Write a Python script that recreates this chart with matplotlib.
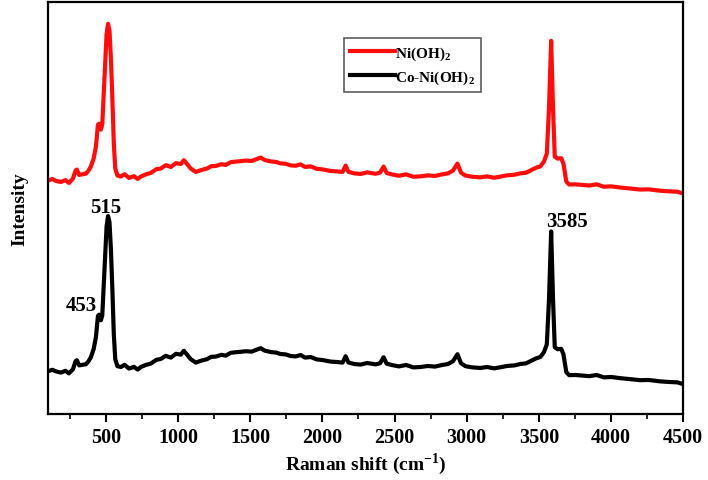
import matplotlib
matplotlib.use("Agg")
import matplotlib.pyplot as plt
from matplotlib.ticker import MultipleLocator

plt.rcParams['font.family'] = 'Liberation Serif'
plt.rcParams['font.weight'] = 'bold'
plt.rcParams['mathtext.fontset'] = 'custom'
plt.rcParams['mathtext.rm'] = 'Liberation Serif:bold'
plt.rcParams['mathtext.bf'] = 'Liberation Serif:bold'

# Raman shift (cm-1)
shift = [100, 130, 154, 189, 220, 244, 272, 290, 299, 315, 340, 362, 380, 396, 415, 431,
         445, 453, 465, 475, 490, 505, 515, 525, 535, 545, 555, 565, 580, 604, 630, 660,
         694, 720, 742, 780, 811, 850, 880, 915, 950, 985, 1019, 1040, 1060, 1088, 1123,
         1157, 1200, 1230, 1261, 1300, 1330, 1365, 1400, 1434, 1470, 1510, 1538, 1573,
         1600, 1642, 1680, 1710, 1746, 1780, 1815, 1849, 1880, 1919, 1960, 2000, 2057,
         2100, 2140, 2161, 2180, 2220, 2265, 2310, 2369, 2400, 2424, 2445, 2480, 2530,
         2580, 2630, 2680, 2730, 2780, 2830, 2870, 2905, 2936, 2960, 2991, 3040, 3095,
         3140, 3190, 3233, 3280, 3330, 3372, 3410, 3441, 3480, 3510, 3535, 3555, 3570,
         3585, 3598, 3610, 3630, 3655, 3670, 3690, 3710, 3753, 3800, 3850, 3900, 3950,
         4000, 4064, 4120, 4202, 4260, 4341, 4400, 4460, 4500]

# Ni(OH)2 (offset upward)
ni_oh2 = [1170, 1178, 1168, 1163, 1172, 1158, 1180, 1220, 1225, 1198, 1202, 1205, 1220,
          1240, 1280, 1340, 1450, 1455, 1425, 1450, 1680, 1905, 1955, 1920, 1780, 1580,
          1355, 1230, 1195, 1190, 1202, 1183, 1192, 1178, 1190, 1202, 1208, 1227, 1230,
          1247, 1238, 1257, 1253, 1272, 1255, 1230, 1213, 1222, 1230, 1242, 1243, 1252,
          1248, 1262, 1265, 1267, 1270, 1268, 1276, 1285, 1273, 1266, 1263, 1256, 1254,
          1246, 1244, 1251, 1238, 1241, 1229, 1226, 1218, 1216, 1213, 1245, 1214, 1206,
          1203, 1211, 1204, 1210, 1240, 1208, 1201, 1194, 1201, 1189, 1191, 1196, 1193,
          1201, 1206, 1220, 1255, 1210, 1195, 1189, 1186, 1191, 1184, 1190, 1196, 1199,
          1206, 1209, 1220, 1234, 1241, 1265, 1305, 1530, 1870, 1530, 1290, 1280, 1282,
          1255, 1165, 1150, 1151, 1148, 1145, 1151, 1139, 1141, 1135, 1131, 1125, 1126,
          1119, 1116, 1114, 1105]

# Co-Ni(OH)2
co_ni_oh2 = [215, 222, 214, 208, 217, 204, 225, 265, 270, 244, 247, 250, 265, 285, 325,
             385, 492, 498, 470, 494, 722, 942, 992, 962, 823, 625, 400, 275, 240, 236,
             247, 228, 237, 223, 236, 247, 253, 272, 276, 292, 283, 302, 298, 317, 300,
             275, 258, 267, 275, 287, 288, 297, 293, 307, 310, 312, 315, 313, 321, 330,
             318, 311, 308, 301, 299, 291, 289, 296, 283, 286, 274, 271, 263, 261, 258,
             290, 259, 251, 248, 256, 249, 255, 285, 253, 246, 239, 246, 234, 236, 241,
             238, 246, 251, 265, 300, 255, 240, 234, 231, 236, 229, 235, 241, 244, 251,
             254, 265, 279, 286, 310, 350, 575, 915, 575, 335, 325, 327, 300, 210, 195,
             196, 193, 190, 196, 184, 186, 180, 176, 170, 171, 164, 161, 159, 150]

fig = plt.figure(figsize=(7.08, 4.81), dpi=100)
ax = fig.add_axes([0.068, 0.137, 0.897, 0.857])

ax.plot(shift, ni_oh2, color='#ff0d0d', lw=3.0, label=r'Ni(OH)$_\mathbf{2}$')
ax.plot(shift, co_ni_oh2, color='black', lw=3.0, label=r'Co-Ni(OH)$_\mathbf{2}$')

ax.text(500, 1035, '515', ha='center', va='center', fontsize=15, fontweight='bold')
ax.text(327, 545, '453', ha='center', va='center', fontsize=15, fontweight='bold')
ax.text(3697, 965, '3585', ha='center', va='center', fontsize=15, fontweight='bold')

ax.set_xlim(100, 4500)
ax.set_ylim(0, 2065)
ax.xaxis.set_major_locator(MultipleLocator(500))
ax.xaxis.set_minor_locator(MultipleLocator(250))
ax.set_yticks([])
ax.tick_params(axis='x', which='major', direction='out', length=6, width=1.5,
               labelsize=14.5, pad=3)
ax.tick_params(axis='x', which='minor', direction='out', length=3.5, width=1.2)
for s in ax.spines.values():
    s.set_linewidth(1.6)
for lbl in ax.get_xticklabels():
    lbl.set_fontweight('bold')

ax.set_xlabel(r'Raman shift (cm$^{\mathbf{-1}}$)', fontsize=14, fontweight='bold', labelpad=3)
ax.set_ylabel('Intensity', fontsize=14, fontweight='bold', labelpad=14)

leg = ax.legend(loc='upper left', bbox_to_anchor=(0.466, 0.912), fancybox=False,
                frameon=True, fontsize=11, handlelength=2.9, handletextpad=0.05,
                borderpad=0.4, labelspacing=0.45, borderaxespad=0)
leg.get_frame().set_edgecolor('#333333')
leg.get_frame().set_linewidth(1.2)
for t in leg.get_texts():
    t.set_fontweight('bold')

fig.savefig('out.png', dpi=100)
